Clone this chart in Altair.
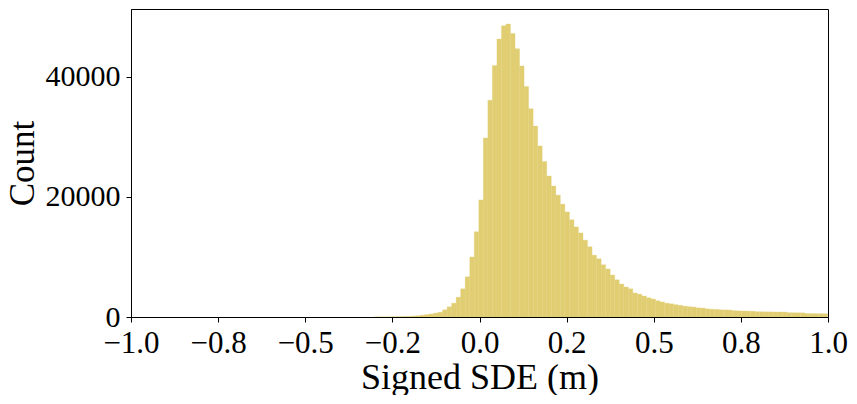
import altair as alt
import pandas as pd

# Histogram bin definition (edges) and counts
bin_first_edge = 0.011 - 0.013 * 24
bin_width = 0.013
counts = [
    10, 15, 20, 30, 40, 60, 80, 110, 150, 200, 300, 400, 500, 650, 800,
    1200, 1700, 2300, 3300, 4700, 6700, 10000, 14200, 19500,
    29800, 36100, 41900, 46300, 48500, 48800, 47200, 44700, 41800, 38400,
    34700, 31800, 28500, 25900, 23500, 21800, 20300, 18800, 17500, 16200,
    15000, 14000, 12800, 11700, 10300, 9700, 8700, 8000, 7000, 6200,
    5500, 5000, 4700, 4000, 3800, 3500, 3200, 3000, 2700, 2500,
    2300, 2200, 2050, 1950, 1800, 1720, 1650, 1520, 1480, 1350,
    1300, 1270, 1200, 1180, 1150, 1050, 1020, 1000, 980, 960,
    880, 870, 860, 850, 840, 830, 820, 720, 710, 700,
    690, 580, 570, 560, 550, 540,
]

x_tick_values = [-1.0, -0.75, -0.5, -0.25, 0.0, 0.25, 0.5, 0.75, 1.0]
x_tick_labels = ["\u22121.0", "\u22120.8", "\u22120.5", "\u22120.2", "0.0", "0.2", "0.5", "0.8", "1.0"]
y_tick_values = [0, 20000, 40000]

starts = [bin_first_edge + bin_width * i for i in range(len(counts))]
ends = [s + bin_width for s in starts]
df = pd.DataFrame({"start": starts, "end": ends, "count": counts})

label_expr = ""
for v, l in zip(x_tick_values, x_tick_labels):
    label_expr += f"datum.value == {v} ? '{l}' : "
label_expr += "''"

FONT = "Liberation Serif"
COLOR = "#E1CE73"

chart = (
    alt.Chart(df)
    .mark_rect(color=COLOR, stroke=COLOR, strokeWidth=0.3, clip=True)
    .encode(
        x=alt.X(
            "start:Q",
            scale=alt.Scale(domain=[-1, 1], nice=False, zero=False),
            axis=alt.Axis(
                title="Signed SDE (m)",
                values=x_tick_values,
                labelExpr=label_expr,
                labelFontSize=31,
                titleFontSize=36,
                labelPadding=6,
                titlePadding=2,
                tickSize=5,
                labelFlush=False,
            ),
        ),
        x2="end:Q",
        y=alt.Y(
            "count:Q",
            scale=alt.Scale(domain=[0, 51300], nice=False),
            axis=alt.Axis(
                title="Count",
                values=y_tick_values,
                format="d",
                labelFontSize=30,
                titleFontSize=35,
                labelPadding=6,
                titlePadding=5,
                tickSize=5,
            ),
        ),
        y2=alt.Y2(datum=0),
    )
    .properties(
        width=697,
        height=308,
        autosize=alt.AutoSizeParams(type="none"),
        padding={"left": 123, "top": 1, "right": 20, "bottom": 78},
    )
    .configure_view(stroke="black", strokeWidth=1)
    .configure_axis(
        grid=False,
        domainColor="black",
        tickColor="black",
        labelColor="black",
        titleColor="black",
        labelFont=FONT,
        titleFont=FONT,
        titleFontWeight="normal",
        domainWidth=1,
        tickWidth=1,
    )
)

chart.save("out.html", embed_options={"renderer": "svg", "actions": False})
